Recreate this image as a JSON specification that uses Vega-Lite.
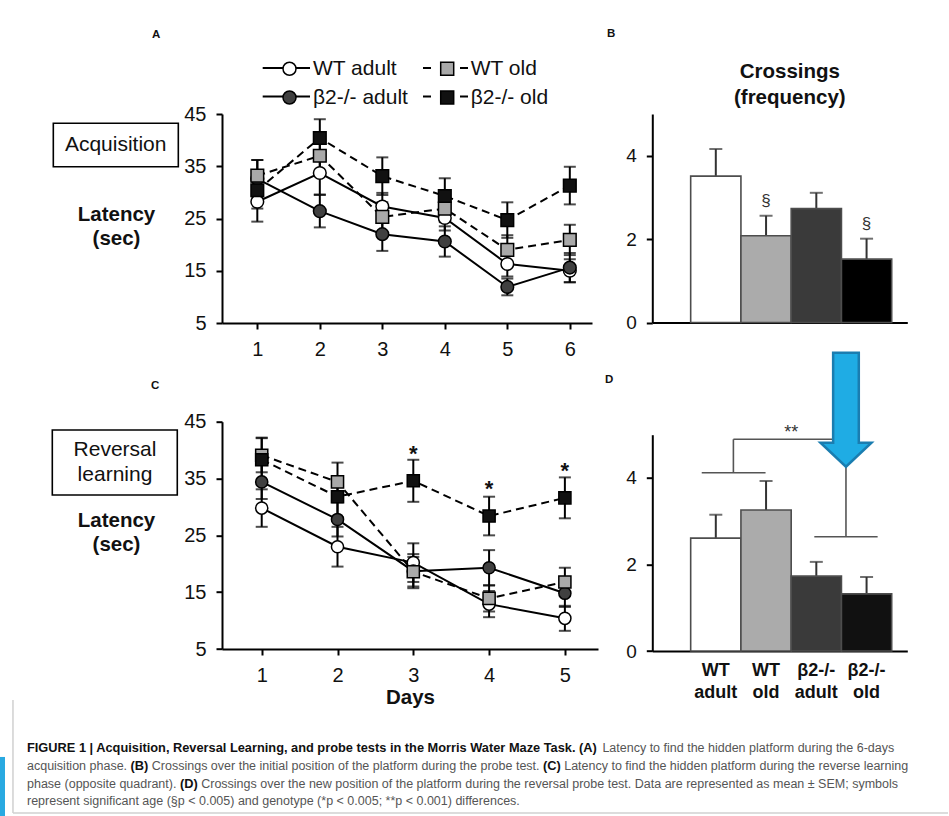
{
  "$schema": "https://vega.github.io/schema/vega-lite/v6.json",
  "background": "white",
  "padding": {"left": 0, "top": 28, "right": 0, "bottom": 0},
  "config": {
    "font": "Liberation Sans",
    "view": {"stroke": null},
    "axis": {"labelFont": "Liberation Sans", "titleFont": "Liberation Sans", "grid": false},
    "legend": {"labelFont": "Liberation Sans"},
    "title": {"font": "Liberation Sans"}
  },
  "datasets": {
    "acq": [
      {"group": "WT adult", "day": 1, "latency": 28.2, "sem": 3.8},
      {"group": "WT adult", "day": 2, "latency": 33.7, "sem": 4.1},
      {"group": "WT adult", "day": 3, "latency": 27.3, "sem": 2.6},
      {"group": "WT adult", "day": 4, "latency": 25.1, "sem": 2.4},
      {"group": "WT adult", "day": 5, "latency": 16.3, "sem": 2.4},
      {"group": "WT adult", "day": 6, "latency": 15.0, "sem": 2.2},
      {"group": "β2-/- adult", "day": 1, "latency": 32.6, "sem": 3.6},
      {"group": "β2-/- adult", "day": 2, "latency": 26.4, "sem": 3.1},
      {"group": "β2-/- adult", "day": 3, "latency": 22.0, "sem": 3.2},
      {"group": "β2-/- adult", "day": 4, "latency": 20.6, "sem": 2.9},
      {"group": "β2-/- adult", "day": 5, "latency": 11.9, "sem": 1.6},
      {"group": "β2-/- adult", "day": 6, "latency": 15.6, "sem": 2.8},
      {"group": "WT old", "day": 1, "latency": 33.2, "sem": 3.0},
      {"group": "WT old", "day": 2, "latency": 37.0, "sem": 3.4},
      {"group": "WT old", "day": 3, "latency": 25.3, "sem": 2.8},
      {"group": "WT old", "day": 4, "latency": 26.9, "sem": 2.6},
      {"group": "WT old", "day": 5, "latency": 19.0, "sem": 2.8},
      {"group": "WT old", "day": 6, "latency": 20.9, "sem": 2.9},
      {"group": "β2-/- old", "day": 1, "latency": 30.4, "sem": 3.5},
      {"group": "β2-/- old", "day": 2, "latency": 40.4, "sem": 3.6},
      {"group": "β2-/- old", "day": 3, "latency": 33.1, "sem": 3.6},
      {"group": "β2-/- old", "day": 4, "latency": 29.3, "sem": 3.4},
      {"group": "β2-/- old", "day": 5, "latency": 24.7, "sem": 3.4},
      {"group": "β2-/- old", "day": 6, "latency": 31.3, "sem": 3.6}
    ],
    "rev": [
      {"group": "WT adult", "day": 1, "latency": 29.8, "sem": 3.3, "sig": ""},
      {"group": "WT adult", "day": 2, "latency": 23.0, "sem": 3.5, "sig": ""},
      {"group": "WT adult", "day": 3, "latency": 20.2, "sem": 3.4, "sig": ""},
      {"group": "WT adult", "day": 4, "latency": 12.9, "sem": 2.3, "sig": ""},
      {"group": "WT adult", "day": 5, "latency": 10.4, "sem": 2.2, "sig": ""},
      {"group": "β2-/- adult", "day": 1, "latency": 34.4, "sem": 3.0, "sig": ""},
      {"group": "β2-/- adult", "day": 2, "latency": 27.8, "sem": 3.0, "sig": ""},
      {"group": "β2-/- adult", "day": 3, "latency": 18.7, "sem": 3.0, "sig": ""},
      {"group": "β2-/- adult", "day": 4, "latency": 19.3, "sem": 3.1, "sig": ""},
      {"group": "β2-/- adult", "day": 5, "latency": 14.8, "sem": 2.4, "sig": ""},
      {"group": "WT old", "day": 1, "latency": 39.1, "sem": 3.0, "sig": ""},
      {"group": "WT old", "day": 2, "latency": 34.4, "sem": 3.4, "sig": ""},
      {"group": "WT old", "day": 3, "latency": 18.6, "sem": 2.6, "sig": ""},
      {"group": "WT old", "day": 4, "latency": 13.9, "sem": 2.3, "sig": ""},
      {"group": "WT old", "day": 5, "latency": 16.8, "sem": 2.5, "sig": ""},
      {"group": "β2-/- old", "day": 1, "latency": 38.3, "sem": 3.9, "sig": ""},
      {"group": "β2-/- old", "day": 2, "latency": 31.8, "sem": 3.6, "sig": ""},
      {"group": "β2-/- old", "day": 3, "latency": 34.6, "sem": 3.7, "sig": "*"},
      {"group": "β2-/- old", "day": 4, "latency": 28.4, "sem": 3.4, "sig": "*"},
      {"group": "β2-/- old", "day": 5, "latency": 31.6, "sem": 3.6, "sig": "*"}
    ],
    "probe1": [
      {"group": "WT adult", "crossings": 3.51, "sem": 0.65, "sig": ""},
      {"group": "WT old", "crossings": 2.08, "sem": 0.48, "sig": "§"},
      {"group": "β2-/- adult", "crossings": 2.73, "sem": 0.38, "sig": ""},
      {"group": "β2-/- old", "crossings": 1.52, "sem": 0.49, "sig": "§"}
    ],
    "probe2": [
      {"group": "WT adult", "crossings": 2.61, "sem": 0.54},
      {"group": "WT old", "crossings": 3.26, "sem": 0.67},
      {"group": "β2-/- adult", "crossings": 1.73, "sem": 0.33},
      {"group": "β2-/- old", "crossings": 1.32, "sem": 0.39}
    ]
  },
  "columns": 2,
  "bounds": "flush",
  "align": "each",
  "spacing": {"row": 98.7, "column": 54.3},
  "resolve": {
    "scale": {"fill": "independent", "shape": "independent", "stroke": "independent"},
    "legend": {"fill": "independent", "shape": "independent", "stroke": "independent"}
  },
  "concat": [
    {
      "title": {"text": "A", "anchor": "start", "frame": "group", "orient": "top", "offset": 0, "baseline": "bottom", "dx": -70, "dy": -7, "fontSize": 11.5, "fontWeight": "bold", "color": "#111"},
      "width": 370,
      "height": 209,
      "data": {"name": "acq"},
      "encoding": {
        "x": {"field": "day", "type": "quantitative", "scale": {"domain": [0.435, 6.355], "nice": false, "zero": false},
          "axis": {"values": [1, 2, 3, 4, 5, 6], "title": null, "domainColor": "black", "domainWidth": 2, "tickColor": "black", "tickWidth": 2, "tickSize": 6, "labelFontSize": 20, "labelColor": "#111", "labelPadding": 10, "labelFlush": false}},
        "y": {"field": "latency", "type": "quantitative", "scale": {"domain": [5, 45], "nice": false, "zero": false},
          "axis": {"values": [5, 15, 25, 35, 45], "domainColor": "black", "domainWidth": 2, "tickColor": "black", "tickWidth": 2, "tickSize": 6, "labelFontSize": 20, "labelColor": "#111", "labelPadding": 10,
            "title": ["Latency", "(sec)"], "titleAngle": 0, "titleAlign": "center", "titleBaseline": "middle", "titleX": -106, "titleY": 100.3, "titleFontSize": 20.5, "titleFontWeight": "bold", "titleColor": "#111", "titleLineHeight": 24}}
      },
      "layer": [
        {"transform": [{"filter": "indexof(datum.group, 'adult') >= 0"}], "mark": {"type": "line", "color": "black", "strokeWidth": 2}, "encoding": {"detail": {"field": "group"}}},
        {"transform": [{"filter": "indexof(datum.group, 'old') >= 0"}], "mark": {"type": "line", "color": "black", "strokeWidth": 2, "strokeDash": [8, 5]}, "encoding": {"detail": {"field": "group"}}},
        {"mark": {"type": "errorbar", "ticks": true, "size": 12, "thickness": 2, "color": "black"}, "encoding": {"yError": {"field": "sem"}}},
        {"transform": [{"filter": "datum.day == 1 && datum.group == 'WT adult'"}], "mark": {"type": "rule", "color": "black", "strokeWidth": 2}, "encoding": {"x": {"datum": 1.086}, "x2": {"datum": 1.843}, "y": {"datum": 53.8}}},
        {"transform": [{"filter": "datum.day == 1 && datum.group == 'WT adult'"}], "mark": {"type": "rule", "color": "black", "strokeWidth": 2}, "encoding": {"x": {"datum": 1.086}, "x2": {"datum": 1.843}, "y": {"datum": 48.35}}},
        {"transform": [{"filter": "datum.day == 1 && datum.group == 'WT adult'"}], "mark": {"type": "rule", "color": "black", "strokeWidth": 2, "strokeDash": [8, 29, 8]}, "encoding": {"x": {"datum": 3.651}, "x2": {"datum": 4.371}, "y": {"datum": 53.8}}},
        {"transform": [{"filter": "datum.day == 1 && datum.group == 'WT adult'"}], "mark": {"type": "rule", "color": "black", "strokeWidth": 2, "strokeDash": [8, 29, 8]}, "encoding": {"x": {"datum": 3.651}, "x2": {"datum": 4.371}, "y": {"datum": 48.35}}},
        {"mark": {"type": "point", "filled": true, "size": 160, "strokeWidth": 1.5, "opacity": 1},
          "encoding": {
            "fill": {"field": "group", "type": "nominal", "scale": {"domain": ["WT adult", "WT old", "β2-/- adult", "β2-/- old"], "range": ["#ffffff", "#a9a9a9", "#404040", "#111111"]},
              "legend": {"title": null, "orient": "none", "legendX": 40, "legendY": -56, "direction": "horizontal", "columns": 2, "padding": 0, "labelFontSize": 21, "labelColor": "#111", "symbolSize": 169, "symbolStrokeWidth": 1.5, "symbolOffset": 17, "labelOffset": 13, "columnPadding": 11.7, "rowPadding": 7}},
            "shape": {"field": "group", "type": "nominal", "scale": {"domain": ["WT adult", "WT old", "β2-/- adult", "β2-/- old"], "range": ["circle", "square", "circle", "square"]},
              "legend": {"title": null, "orient": "none", "legendX": 40, "legendY": -56, "direction": "horizontal", "columns": 2, "padding": 0, "labelFontSize": 21, "labelColor": "#111", "symbolSize": 169, "symbolStrokeWidth": 1.5, "symbolOffset": 17, "labelOffset": 13, "columnPadding": 11.7, "rowPadding": 7}},
            "stroke": {"field": "group", "type": "nominal", "scale": {"domain": ["WT adult", "WT old", "β2-/- adult", "β2-/- old"], "range": ["#000000", "#000000", "#000000", "#000000"]},
              "legend": {"title": null, "orient": "none", "legendX": 40, "legendY": -56, "direction": "horizontal", "columns": 2, "padding": 0, "labelFontSize": 21, "labelColor": "#111", "symbolSize": 169, "symbolStrokeWidth": 1.5, "symbolOffset": 17, "labelOffset": 13, "columnPadding": 11.7, "rowPadding": 7}}
          }},
        {"transform": [{"filter": "datum.day == 1 && datum.group == 'WT adult'"}], "mark": {"type": "rect", "fill": "white", "stroke": "black", "strokeWidth": 1.6}, "encoding": {"x": {"datum": -2.264}, "x2": {"datum": -0.264}, "y": {"datum": 43.22}, "y2": {"datum": 34.91}}},
        {"transform": [{"filter": "datum.day == 1 && datum.group == 'WT adult'"}], "mark": {"type": "text", "text": "Acquisition", "align": "center", "baseline": "middle", "fontSize": 21, "color": "#111"}, "encoding": {"x": {"datum": -1.266}, "y": {"datum": 39.07}}}
      ]
    },
    {
      "title": {"text": "B", "anchor": "start", "frame": "group", "orient": "top", "offset": 0, "baseline": "bottom", "dx": -45.3, "dy": -11, "fontSize": 11.5, "fontWeight": "bold", "color": "#111"},
      "width": 255,
      "height": 208.5,
      "data": {"name": "probe1"},
      "encoding": {
        "x": {"field": "group", "type": "nominal", "sort": null, "scale": {"domain": ["WT adult", "WT old", "β2-/- adult", "β2-/- old"], "paddingInner": 0, "paddingOuter": 0.537, "align": 0.711},
          "axis": {"title": null, "labels": false, "ticks": false, "domainColor": "black", "domainWidth": 2}},
        "y": {"field": "crossings", "type": "quantitative", "scale": {"domain": [0, 5], "nice": false},
          "axis": {"values": [0, 2, 4], "domainColor": "black", "domainWidth": 2, "tickColor": "black", "tickWidth": 2, "tickSize": 6, "labelFontSize": 19, "labelColor": "#111", "labelPadding": 10,
            "title": ["Crossings", "(frequency)"], "titleAngle": 0, "titleAlign": "center", "titleBaseline": "middle", "titleX": 137, "titleY": -42.3, "titleFontSize": 20.5, "titleFontWeight": "bold", "titleColor": "#111", "titleLineHeight": 25.6}}
      },
      "layer": [
        {"mark": {"type": "errorbar", "ticks": true, "size": 13, "thickness": 2, "color": "#333"}, "encoding": {"yError": {"field": "sem"}}},
        {"mark": {"type": "bar", "stroke": "#4d4d4d", "strokeWidth": 1.6}, "encoding": {"fill": {"field": "group", "type": "nominal", "scale": {"domain": ["WT adult", "WT old", "β2-/- adult", "β2-/- old"], "range": ["#ffffff", "#ababab", "#3a3a3a", "#000000"]}, "legend": null}}},
        {"mark": {"type": "text", "dy": -35, "fontSize": 17, "color": "#333", "baseline": "middle"}, "encoding": {"text": {"field": "sig"}}}
      ]
    },
    {
      "title": {"text": "C", "anchor": "start", "frame": "group", "orient": "top", "offset": 0, "baseline": "bottom", "dx": -71, "dy": -9.7, "fontSize": 11.5, "fontWeight": "bold", "color": "#111"},
      "width": 376,
      "height": 227.3,
      "data": {"name": "rev"},
      "encoding": {
        "x": {"field": "day", "type": "quantitative", "scale": {"domain": [0.476, 5.437], "nice": false, "zero": false},
          "axis": {"values": [1, 2, 3, 4, 5], "title": "Days", "titleFontSize": 20.5, "titleFontWeight": "bold", "titleColor": "#111", "titlePadding": 2, "domainColor": "black", "domainWidth": 2, "tickColor": "black", "tickWidth": 2, "tickSize": 6, "labelFontSize": 20, "labelColor": "#111", "labelPadding": 10, "labelFlush": false}},
        "y": {"field": "latency", "type": "quantitative", "scale": {"domain": [5, 45], "nice": false, "zero": false},
          "axis": {"values": [5, 15, 25, 35, 45], "domainColor": "black", "domainWidth": 2, "tickColor": "black", "tickWidth": 2, "tickSize": 6, "labelFontSize": 20, "labelColor": "#111", "labelPadding": 10,
            "title": ["Latency", "(sec)"], "titleAngle": 0, "titleAlign": "center", "titleBaseline": "middle", "titleX": -106, "titleY": 98.3, "titleFontSize": 20.5, "titleFontWeight": "bold", "titleColor": "#111", "titleLineHeight": 24}}
      },
      "layer": [
        {"transform": [{"filter": "indexof(datum.group, 'adult') >= 0"}], "mark": {"type": "line", "color": "black", "strokeWidth": 2}, "encoding": {"detail": {"field": "group"}}},
        {"transform": [{"filter": "indexof(datum.group, 'old') >= 0"}], "mark": {"type": "line", "color": "black", "strokeWidth": 2, "strokeDash": [8, 5]}, "encoding": {"detail": {"field": "group"}}},
        {"mark": {"type": "errorbar", "ticks": true, "size": 12, "thickness": 2, "color": "black"}, "encoding": {"yError": {"field": "sem"}}},
        {"mark": {"type": "point", "filled": true, "size": 147, "stroke": "black", "strokeWidth": 1.5, "opacity": 1},
          "encoding": {
            "fill": {"field": "group", "type": "nominal", "scale": {"domain": ["WT adult", "WT old", "β2-/- adult", "β2-/- old"], "range": ["#ffffff", "#a9a9a9", "#404040", "#111111"]}, "legend": null},
            "shape": {"field": "group", "type": "nominal", "scale": {"domain": ["WT adult", "WT old", "β2-/- adult", "β2-/- old"], "range": ["circle", "square", "circle", "square"]}, "legend": null}
          }},
        {"mark": {"type": "text", "dy": -20, "fontSize": 22, "fontWeight": "bold", "color": "#111", "baseline": "alphabetic"}, "encoding": {"text": {"field": "sig"}}},
        {"transform": [{"filter": "datum.day == 1 && datum.group == 'WT adult'"}], "mark": {"type": "rect", "fill": "white", "stroke": "black", "strokeWidth": 1.6}, "encoding": {"x": {"datum": -1.763}, "x2": {"datum": -0.114}, "y": {"datum": 43.54}, "y2": {"datum": 32.1}}},
        {"transform": [{"filter": "datum.day == 1 && datum.group == 'WT adult'"}], "mark": {"type": "text", "text": ["Reversal", "learning"], "lineHeight": 25, "align": "center", "baseline": "middle", "fontSize": 21, "color": "#111"}, "encoding": {"x": {"datum": -0.936}, "y": {"datum": 40.0}}},
        {"transform": [{"filter": "datum.day == 1 && datum.group == 'WT adult'"}], "mark": {"type": "rule", "color": "#d0d0d0", "strokeWidth": 1.5}, "encoding": {"x": {"datum": -2.282}, "y": {"datum": -3.97}, "y2": {"datum": -23.87}}},
        {"transform": [{"filter": "datum.day == 1 && datum.group == 'WT adult'"}], "mark": {"type": "rule", "color": "#d0d0d0", "strokeWidth": 1.5}, "encoding": {"x": {"datum": -2.282}, "x2": {"datum": 10.055}, "y": {"datum": -23.87}}},
        {"transform": [{"filter": "datum.day == 1 && datum.group == 'WT adult'"}], "mark": {"type": "rect", "fill": "#29a9e1"}, "encoding": {"x": {"datum": -2.453}, "x2": {"datum": -2.387}, "y": {"datum": -14.0}, "y2": {"datum": -24.39}}},
        {"transform": [{"filter": "datum.day == 1 && datum.group == 'WT adult'"}], "mark": {"type": "text", "text": "FIGURE 1 | Acquisition, Reversal Learning, and probe tests in the Morris Water Maze Task. (A)", "align": "left", "baseline": "middle", "fontSize": 12.8, "fontWeight": "bold", "color": "#111"}, "encoding": {"x": {"datum": -2.097}, "y": {"datum": -12.42}}},
        {"transform": [{"filter": "datum.day == 1 && datum.group == 'WT adult'"}], "mark": {"type": "text", "text": "Latency to find the hidden platform during the 6-days", "align": "left", "baseline": "middle", "fontSize": 12.5, "color": "#555"}, "encoding": {"x": {"datum": 5.495}, "y": {"datum": -12.42}}},
        {"transform": [{"filter": "datum.day == 1 && datum.group == 'WT adult'"}], "mark": {"type": "text", "text": "acquisition phase.", "align": "left", "baseline": "middle", "fontSize": 12.5, "color": "#555"}, "encoding": {"x": {"datum": -2.097}, "y": {"datum": -15.59}}},
        {"transform": [{"filter": "datum.day == 1 && datum.group == 'WT adult'"}], "mark": {"type": "text", "text": "(B)", "align": "left", "baseline": "middle", "fontSize": 12.8, "fontWeight": "bold", "color": "#111"}, "encoding": {"x": {"datum": -0.731}, "y": {"datum": -15.59}}},
        {"transform": [{"filter": "datum.day == 1 && datum.group == 'WT adult'"}], "mark": {"type": "text", "text": "Crossings over the initial position of the platform during the probe test.", "align": "left", "baseline": "middle", "fontSize": 12.5, "color": "#555"}, "encoding": {"x": {"datum": -0.45}, "y": {"datum": -15.59}}},
        {"transform": [{"filter": "datum.day == 1 && datum.group == 'WT adult'"}], "mark": {"type": "text", "text": "(C)", "align": "left", "baseline": "middle", "fontSize": 12.8, "fontWeight": "bold", "color": "#111"}, "encoding": {"x": {"datum": 4.711}, "y": {"datum": -15.59}}},
        {"transform": [{"filter": "datum.day == 1 && datum.group == 'WT adult'"}], "mark": {"type": "text", "text": "Latency to find the hidden platform during the reverse learning", "align": "left", "baseline": "middle", "fontSize": 12.5, "color": "#555"}, "encoding": {"x": {"datum": 4.991}, "y": {"datum": -15.59}}},
        {"transform": [{"filter": "datum.day == 1 && datum.group == 'WT adult'"}], "mark": {"type": "text", "text": "phase (opposite quadrant).", "align": "left", "baseline": "middle", "fontSize": 12.5, "color": "#555"}, "encoding": {"x": {"datum": -2.097}, "y": {"datum": -18.76}}},
        {"transform": [{"filter": "datum.day == 1 && datum.group == 'WT adult'"}], "mark": {"type": "text", "text": "(D)", "align": "left", "baseline": "middle", "fontSize": 12.8, "fontWeight": "bold", "color": "#111"}, "encoding": {"x": {"datum": -0.0795}, "y": {"datum": -18.76}}},
        {"transform": [{"filter": "datum.day == 1 && datum.group == 'WT adult'"}], "mark": {"type": "text", "text": "Crossings over the new position of the platform during the reversal probe test. Data are represented as mean ± SEM; symbols", "align": "left", "baseline": "middle", "fontSize": 12.5, "color": "#555"}, "encoding": {"x": {"datum": 0.2016}, "y": {"datum": -18.76}}},
        {"transform": [{"filter": "datum.day == 1 && datum.group == 'WT adult'"}], "mark": {"type": "text", "text": "represent significant age (§p < 0.005) and genotype (*p < 0.005; **p < 0.001) differences.", "align": "left", "baseline": "middle", "fontSize": 12.5, "color": "#555"}, "encoding": {"x": {"datum": -2.097}, "y": {"datum": -21.75}}}
      ]
    },
    {
      "title": {"text": "D", "anchor": "start", "frame": "group", "orient": "top", "offset": 0, "baseline": "bottom", "dx": -47.3, "dy": 49, "fontSize": 11.5, "fontWeight": "bold", "color": "#111"},
      "width": 255,
      "height": 229.3,
      "data": {"name": "probe2"},
      "encoding": {
        "x": {"field": "group", "type": "nominal", "sort": null, "scale": {"domain": ["WT adult", "WT old", "β2-/- adult", "β2-/- old"], "paddingInner": 0, "paddingOuter": 0.537, "align": 0.711},
          "axis": {"title": null, "ticks": false, "tickSize": 0, "labelAngle": 0, "labelExpr": "split(datum.label, ' ')", "labelFontSize": 18, "labelFontWeight": "bold", "labelLineHeight": 22, "labelPadding": 10, "labelColor": "#111", "domainColor": "black", "domainWidth": 2}},
        "y": {"field": "crossings", "type": "quantitative", "scale": {"domain": [0, 5], "range": [229.3, 13], "nice": false},
          "axis": {"values": [0, 2, 4], "title": null, "domainColor": "black", "domainWidth": 2, "tickColor": "black", "tickWidth": 2, "tickSize": 6, "labelFontSize": 19, "labelColor": "#111", "labelPadding": 10}}
      },
      "layer": [
        {"mark": {"type": "errorbar", "ticks": true, "size": 13, "thickness": 2, "color": "#333"}, "encoding": {"yError": {"field": "sem"}}},
        {"mark": {"type": "bar", "stroke": "#4d4d4d", "strokeWidth": 1.6}, "encoding": {"fill": {"field": "group", "type": "nominal", "scale": {"domain": ["WT adult", "WT old", "β2-/- adult", "β2-/- old"], "range": ["#ffffff", "#ababab", "#3a3a3a", "#111111"]}, "legend": null}}},
        {"transform": [{"filter": "datum.group == 'WT adult'"}], "mark": {"type": "rule", "color": "#555", "strokeWidth": 1.6}, "encoding": {"x": {"datum": "WT adult", "bandPosition": 0.22}, "x2": {"datum": "WT old", "bandPosition": 0.49}, "y": {"datum": 4.12}}},
        {"transform": [{"filter": "datum.group == 'WT adult'"}], "mark": {"type": "rule", "color": "#555", "strokeWidth": 1.6}, "encoding": {"x": {"datum": "WT adult", "bandPosition": 0.85}, "y": {"datum": 4.12}, "y2": {"datum": 4.894}}},
        {"transform": [{"filter": "datum.group == 'WT adult'"}], "mark": {"type": "rule", "color": "#555", "strokeWidth": 1.6}, "encoding": {"x": {"datum": "WT adult", "bandPosition": 0.85}, "x2": {"datum": "β2-/- old", "bandPosition": 0.09}, "y": {"datum": 4.894}}},
        {"transform": [{"filter": "datum.group == 'WT adult'"}], "mark": {"type": "rule", "color": "#555", "strokeWidth": 1.6}, "encoding": {"x": {"datum": "β2-/- old", "bandPosition": 0.09}, "y": {"datum": 2.642}, "y2": {"datum": 4.894}}},
        {"transform": [{"filter": "datum.group == 'WT adult'"}], "mark": {"type": "rule", "color": "#555", "strokeWidth": 1.6}, "encoding": {"x": {"datum": "β2-/- adult", "bandPosition": 0.46}, "x2": {"datum": "β2-/- old", "bandPosition": 0.72}, "y": {"datum": 2.642}}},
        {"transform": [{"filter": "datum.group == 'WT adult'"}], "mark": {"type": "text", "text": "**", "align": "center", "baseline": "alphabetic", "fontSize": 18, "color": "#333"}, "encoding": {"x": {"datum": "β2-/- adult", "bandPosition": 0}, "y": {"datum": 4.914}}},
        {"transform": [{"filter": "datum.group == 'WT adult'"}], "mark": {"type": "point", "shape": "M-0.225,-1L0.225,-1L0.225,0.579L0.447,0.579L0,1L-0.447,0.579L-0.225,0.579Z", "size": 12996, "filled": true, "fill": "#1face4", "stroke": "#1a7db0", "strokeWidth": 2.5, "opacity": 1}, "encoding": {"x": {"datum": "β2-/- old", "bandPosition": 0.09}, "y": {"datum": 5.578}}}
      ]
    }
  ]
}
